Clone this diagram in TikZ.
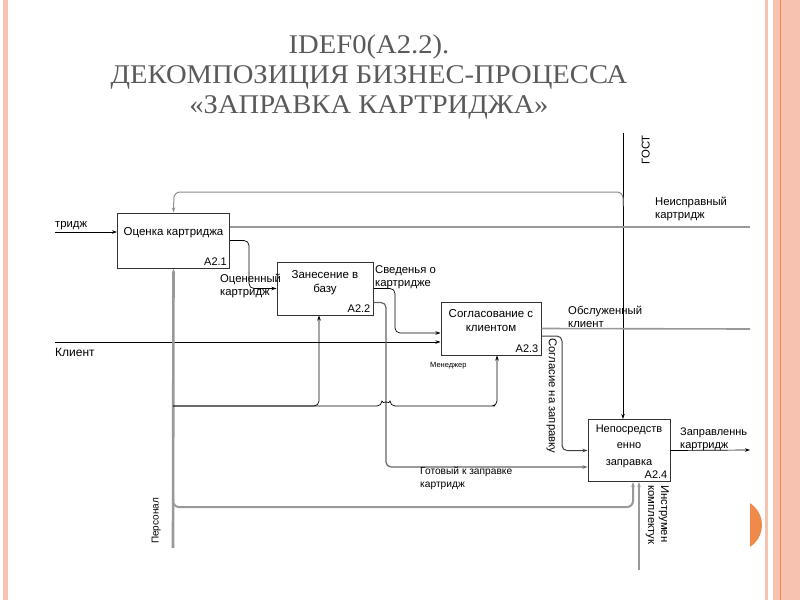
\documentclass[tikz,border=0pt]{standalone}
\usepackage{fontspec}
\setmainfont{Liberation Sans}
\newfontfamily\titlefont{Liberation Serif}
\usetikzlibrary{arrows.meta,positioning}

\definecolor{slidepink}{HTML}{F7C3B0}
\definecolor{slideorange}{HTML}{F08A4B}
\definecolor{titlegray}{HTML}{5A5A5A}

\begin{document}
\begin{tikzpicture}[
    x=1pt, y=-1pt,
    box/.style={rectangle, draw=black!80, line width=1pt, inner sep=0pt},
    boxtext/.style={font=\fontsize{11.5}{14.5}\selectfont, align=center, anchor=north},
    num/.style={font=\fontsize{11}{12}\selectfont, anchor=south east, inner sep=3pt},
    lbl/.style={font=\fontsize{11.3}{13}\selectfont, align=left, inner sep=0pt},
    arrow/.style={-{Stealth[length=5pt,width=3.5pt]}},
    conn/.style={draw=black, line width=0.7pt},
    heavy/.style={draw=gray!80, line width=2pt}
]
    \useasboundingbox (0,0) rectangle (800,600);

    % slide decoration
    \fill[slidepink] (3,0) rectangle (8,600);
    \fill[slidepink] (765,0) rectangle (768,600);
    \fill[slidepink] (773,0) rectangle (800,600);
    \fill[slideorange] (780,0) rectangle (781,600);
    \begin{scope}
        \clip (750,490) rectangle (770,560);
        \fill[slideorange] (736,525) circle (26);
    \end{scope}

    % title
    \node[font=\titlefont\fontsize{27}{30}\selectfont, text=titlegray, align=center, xscale=1.06] (title) at (369,77)
        {IDEF0(A2.2).\\ДЕКОМПОЗИЦИЯ БИЗНЕС-ПРОЦЕССА\\«ЗАПРАВКА КАРТРИДЖА»};

    % blocks
    \node[box, minimum width=112, minimum height=55,
        label={[boxtext, yshift=-11pt]north:Оценка картриджа},
        label={[num]south east:A2.1}] (ocenka) at (173.5,240.5) {};
    \node[box, minimum width=96, minimum height=53,
        label={[boxtext, yshift=-5pt]north:Занесение в\\базу},
        label={[num]south east:A2.2}] (zanesenie) at (325,288.5) {};
    \node[box, minimum width=100, minimum height=53,
        label={[boxtext, yshift=-4pt]north:Согласование с\\клиентом},
        label={[num]south east:A2.3}] (soglasovanie) at (491,328.5) {};
    \node[box, minimum width=82, minimum height=62,
        label={[boxtext, yshift=-2pt, font=\fontsize{11}{16.5}\selectfont]north:Непосредств\\енно\\заправка},
        label={[num]south east:A2.4}] (zapravka) at (629,450.5) {};

    % free ends
    \coordinate (kartin) at (55,232);
    \coordinate (klient) at (55,342);
    \coordinate (gost) at (623,133);
    \coordinate (gostbr) at (623,206);
    \coordinate (loop) at (174,192);
    \coordinate (nespr) at (750,227);
    \coordinate (obsl) at (750,329);
    \coordinate (zapr) at (750,450);
    \coordinate (personal) at (173,548);
    \coordinate (persbr) at (173,406);
    \coordinate (persbr2) at (173,490);
    \coordinate (instr) at (639,570);

    % inputs
    \draw[conn, arrow] (kartin) -- (kartin -| ocenka.west);
    \draw[conn, arrow] (klient) -- (klient -| soglasovanie.west);

    % controls
    \draw[conn, arrow] (gost) -- (gost |- zapravka.north);
    \draw[conn, draw=gray!90, line width=1pt, arrow, rounded corners=6] (gostbr) |- (loop) -- (ocenka.north);

    % outputs
    \draw[heavy] (ocenka.east |- nespr) -- (nespr);
    \draw[conn, arrow, rounded corners=5] (ocenka.east) -| (249,262) |- (zanesenie.west);
    \draw[conn, arrow, rounded corners=5] (zanesenie.east) -| (395,310) |- ([yshift=-4.5pt]soglasovanie.west);
    \draw[heavy, line width=1.6pt] (soglasovanie.east) -- (obsl);
    \draw[conn, draw=black!75, line width=1pt, arrow, rounded corners=5] ([yshift=-7.5pt]soglasovanie.east) -| (562,420) |- (zapravka.west);
    \draw[conn, draw=black!60, line width=1.2pt, arrow, rounded corners=5] ([yshift=-14pt]zanesenie.east) -| (386,440) |- ([yshift=-16.5pt]zapravka.west);
    \draw[conn, arrow] (zapravka.east) -- (zapr);

    % mechanisms
    \draw[heavy, line width=2.6pt, arrow] (personal) -- (ocenka.south);
    \draw[conn, arrow, rounded corners=5] (persbr) -| ([xshift=-6pt]zanesenie.south);
    \draw[conn, arrow, rounded corners=5] (persbr) -- (382,406) arc (180:360:4) -- (490,406) -| ([xshift=6pt]soglasovanie.south);
    \draw[heavy, arrow, rounded corners=6] (persbr2) |- (620,507) -| ([xshift=4pt]zapravka.south);
    \draw[heavy, line width=2.6pt, arrow] (instr) -- (instr |- zapravka.south);

    % labels
    \node[lbl, anchor=south west] (lkart) at (55,230) {тридж};
    \node[lbl, anchor=north west, font=\fontsize{12}{13}\selectfont] (lklient) at (55,348) {Клиент};
    \node[lbl, anchor=north west] (lnespr) at (655,197) {Неисправный\\картридж};
    \node[lbl, anchor=north west] (locen) at (220,274) {Оцененный\\картридж};
    \node[lbl, anchor=north west] (lsved) at (375,265) {Сведенья о\\картридже};
    \node[lbl, anchor=north west] (lobsl) at (568,306) {Обслуженный\\клиент};
    \node[lbl, anchor=north west, font=\fontsize{10.2}{13}\selectfont] (lgotov) at (420,467) {Готовый к заправке\\картридж};
    \node[lbl, anchor=north west, font=\fontsize{11}{13}\selectfont] (lzapr) at (680,428) {Заправленнь\\картридж};
    \node[lbl, anchor=north west, font=\fontsize{7.5}{8}\selectfont] (lmen) at (430,362) {Менеджер};
    \node[lbl, rotate=-90, anchor=north west] (lsogl) at (557,338) {Согласие на заправку};
    \node[lbl, rotate=90, anchor=south east] (lgost) at (650,135) {ГОСТ};
    \node[lbl, rotate=90, anchor=south west, font=\fontsize{10}{12}\selectfont] (lpers) at (161,544) {Персонал};
    \node[lbl, rotate=-90, anchor=north west] (linstr) at (669,485) {Инструмен\\комплектук};
\end{tikzpicture}
\end{document}
